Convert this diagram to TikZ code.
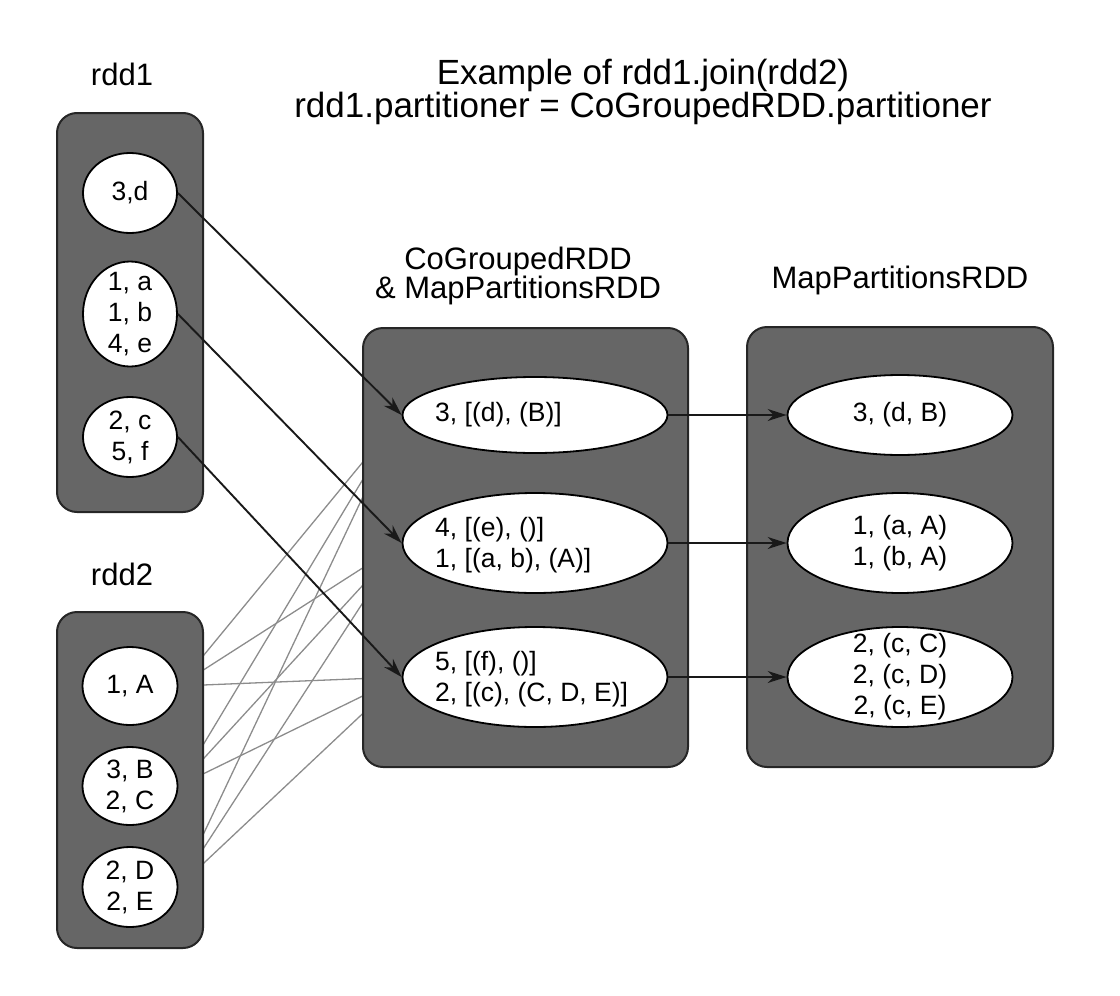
\documentclass[tikz,border=0pt]{standalone}
\usepackage{fontspec}
\setmainfont{Liberation Sans}
\usetikzlibrary{positioning,shapes.geometric,arrows.meta}
\pgfdeclarelayer{lines}
\pgfdeclarelayer{boxes}
\pgfsetlayers{lines,boxes,main}

\tikzset{
    rddbox/.style={draw=black!85, fill=black!60, line width=2pt, rounded corners=20pt, inner sep=0pt},
    part/.style={ellipse, draw=black, fill=white, line width=1.8pt, inner sep=0pt},
    txt/.style={font=\fontsize{26.5}{31}\selectfont, align=center, inner sep=0pt},
    lbl/.style={font=\fontsize{31}{29}\selectfont, align=center, inner sep=0pt},
    dep/.style={->, line width=1.9pt, black!90},
    shuf/.style={line width=1.3pt, black!45},
}

\begin{document}
\begin{tikzpicture}[x=1pt, y=-1pt, >={Stealth[length=19pt,width=12pt]}]
    \useasboundingbox (0,0) rectangle (1120,996);

    \node[lbl, font=\fontsize{35}{29}\selectfont] (title) at (643,92) {Example of rdd1.join(rdd2)\\rdd1.partitioner = CoGroupedRDD.partitioner};

    \node[lbl] (rddonelbl) at (122,74) {rdd1};
    \node[lbl] (rddtwolbl) at (122,574) {rdd2};
    \node[lbl] (cogrouplbl) at (518,276) {CoGroupedRDD\\\& MapPartitionsRDD};
    \node[lbl] (mappartlbl) at (900,280) {MapPartitionsRDD};

    % the four RDDs
    \begin{pgfonlayer}{boxes}
        \node[rddbox, minimum width=146pt, minimum height=399pt] (rddone) at (130,312.5) {};
        \node[rddbox, minimum width=146pt, minimum height=336pt] (rddtwo) at (130,780) {};
        \node[rddbox, minimum width=325pt, minimum height=439pt] (cogroup) at (525.5,547.5) {};
        \node[rddbox, minimum width=306pt, minimum height=440pt] (mappart) at (900,547) {};
    \end{pgfonlayer}

    % rdd1 partitions
    \node[part, minimum width=94pt, minimum height=80pt] (a1) at (130,193) {};
    \node[part, minimum width=94pt, minimum height=105pt] (a2) at (130,314) {};
    \node[part, minimum width=94pt, minimum height=80pt] (a3) at (130,437) {};
    \node[txt] (a1t) at (a1) {3,d};
    \node[txt] (a2t) at (a2) {1, a\\1, b\\4, e};
    \node[txt] (a3t) at (a3) {2, c\\5, f};

    % rdd2 partitions
    \node[part, minimum width=95pt, minimum height=78pt] (b1) at (130,686) {};
    \node[part, minimum width=95pt, minimum height=78pt] (b2) at (130,786) {};
    \node[part, minimum width=95pt, minimum height=80pt] (b3) at (130,887) {};
    \node[txt] (b1t) at (b1) {1, A};
    \node[txt] (b2t) at (b2) {3, B\\2, C};
    \node[txt] (b3t) at (b3) {2, D\\2, E};

    % CoGroupedRDD partitions
    \node[part, minimum width=265pt, minimum height=76pt] (c1) at (535,415) {};
    \node[part, minimum width=265pt, minimum height=100pt] (c2) at (535,543) {};
    \node[part, minimum width=265pt, minimum height=100pt] (c3) at (535,677) {};
    \node[txt, anchor=west, align=left] (c1t) at (435,415) {3, [(d), (B)]};
    \node[txt, anchor=west, align=left] (c2t) at (435,545) {4, [(e), ()]\\1, [(a, b), (A)]};
    \node[txt, anchor=west, align=left] (c3t) at (435,679) {5, [(f), ()]\\2, [(c), (C, D, E)]};

    % MapPartitionsRDD partitions
    \node[part, minimum width=225pt, minimum height=80pt] (m1) at (900,415) {};
    \node[part, minimum width=225pt, minimum height=100pt] (m2) at (900,543) {};
    \node[part, minimum width=225pt, minimum height=100pt] (m3) at (900,677) {};
    \node[txt] (m1t) at (m1) {3, (d, B)};
    \node[txt] (m2t) at (m2) {1, (a, A)\\1, (b, A)};
    \node[txt] (m3t) at (m3) {2, (c, C)\\2, (c, D)\\2, (c, E)};

    % shuffle from rdd2
    \begin{pgfonlayer}{lines}
        \foreach \s in {b1,b2,b3}
            \foreach \t in {c1,c2,c3}
                \draw[shuf] (\s.east) -- (\t.west);
    \end{pgfonlayer}

    % narrow dependencies
    \draw[dep] (a1.east) -- (c1.west);
    \draw[dep] (a2.east) -- (c2.west);
    \draw[dep] (a3.east) -- (c3.west);
    \draw[dep] (c1.east) -- (m1.west);
    \draw[dep] (c2.east) -- (m2.west);
    \draw[dep] (c3.east) -- (m3.west);
\end{tikzpicture}
\end{document}
